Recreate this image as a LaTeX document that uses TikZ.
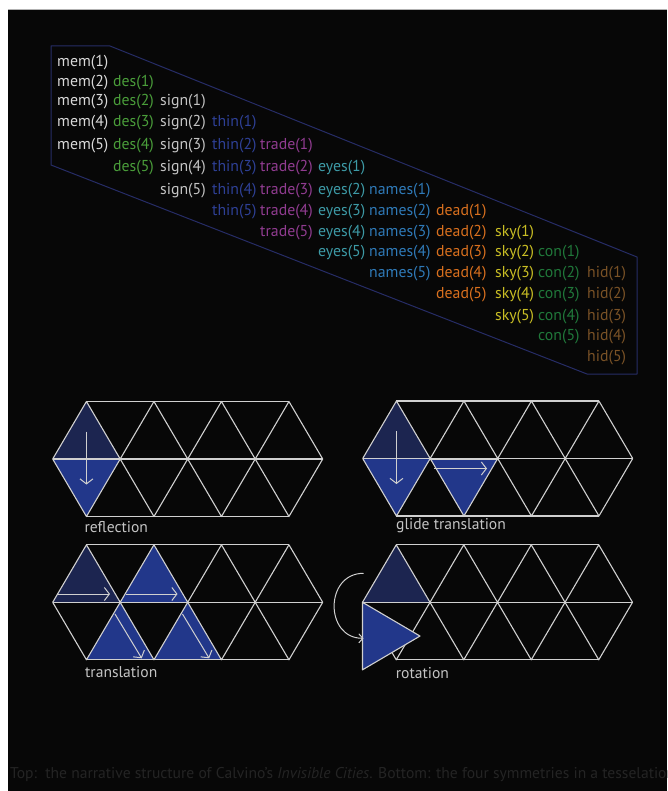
\documentclass[tikz,border=0pt]{standalone}
\usepackage{fontspec}
\setmainfont{PT Sans}
\usetikzlibrary{arrows.meta,calc}
\definecolor{bgblack}{HTML}{070707}
\definecolor{cmem}{HTML}{DADADA}
\definecolor{cdes}{HTML}{4A9E3A}
\definecolor{csign}{HTML}{C4C4C4}
\definecolor{cthin}{HTML}{2E4096}
\definecolor{ctrade}{HTML}{913C91}
\definecolor{ceyes}{HTML}{3D9AA6}
\definecolor{cnames}{HTML}{2F7AB8}
\definecolor{cdead}{HTML}{D9701E}
\definecolor{csky}{HTML}{C9BE24}
\definecolor{ccon}{HTML}{20783A}
\definecolor{chid}{HTML}{7A5226}
\definecolor{outline}{HTML}{262C66}
\definecolor{navy}{HTML}{1C2550}
\definecolor{tblue}{HTML}{22378A}
\definecolor{gridc}{HTML}{D0D0D0}
\definecolor{capc}{HTML}{242424}
\tikzset{
  word/.style={anchor=base west,inner sep=0pt,font=\fontsize{15.8}{18}\selectfont},
  gridline/.style={draw=gridc,line width=1.1pt,line join=round},
  marrow/.style={draw=gridc,line width=1pt,-{Straight Barb[length=5pt,width=13pt]}},
  plabel/.style={anchor=west,inner sep=0pt,text=csign,font=\fontsize{15.6}{18}\selectfont},
}
\newcommand\mkgrid[3]{%
  \begin{scope}[shift={(#2,#3)}]
    \foreach \i in {0,...,4} \coordinate (#1M\i) at (\i*67.5,0);
    \foreach \i in {0,...,3} {\coordinate (#1T\i) at (\i*67.5+33.75,-57.5);
                              \coordinate (#1B\i) at (\i*67.5+33.75,57.5);}
  \end{scope}}
\newcommand\drawgrid[1]{%
  \draw[gridline] (#1M0)--(#1M4) (#1T0)--(#1T3) (#1B0)--(#1B3);
  \draw[gridline] (#1M0)--(#1T0)--(#1M1)--(#1T1)--(#1M2)--(#1T2)--(#1M3)--(#1T3)--(#1M4);
  \draw[gridline] (#1M0)--(#1B0)--(#1M1)--(#1B1)--(#1M2)--(#1B2)--(#1M3)--(#1B3)--(#1M4);}
\begin{document}
\begin{tikzpicture}[x=1pt,y=-1pt]
\useasboundingbox (0,0) rectangle (667,791);
\clip (0,0) rectangle (667,791);
\fill[white] (0,0) rectangle (667,791);
\fill[bgblack] (8,10) rectangle (667,791);
\draw[gray!60,line width=0.6pt] (8,9.7) -- (667,9.7);

% ---------- top structure ----------
\draw[outline,line width=1pt,line join=round] (51,46) -- (110,46) -- (637,257) -- (637,374) -- (587,374) -- (51,165) -- cycle;

\def\cmem{57}\def\cdes{113}\def\csign{160}\def\cthin{212}\def\ctrade{260}
\def\ceyes{318}\def\cnames{369}\def\cdead{436}\def\csky{495}\def\ccon{538}\def\chid{587}
% mem
\node[word,text=cmem] (mem1) at (\cmem,66.5) {mem(1)};
\node[word,text=cmem] (mem2) at (\cmem,86.5) {mem(2)};
\node[word,text=cmem] (mem3) at (\cmem,105.5) {mem(3)};
\node[word,text=cmem] (mem4) at (\cmem,126.5) {mem(4)};
\node[word,text=cmem] (mem5) at (\cmem,149.5) {mem(5)};
% des
\node[word,text=cdes] (des1) at (\cdes,86.5) {des(1)};
\node[word,text=cdes] (des2) at (\cdes,105.5) {des(2)};
\node[word,text=cdes] (des3) at (\cdes,126.5) {des(3)};
\node[word,text=cdes] (des4) at (\cdes,149.5) {des(4)};
\node[word,text=cdes] (des5) at (\cdes,171.5) {des(5)};
% sign
\node[word,text=csign] (sign1) at (\csign,105.5) {sign(1)};
\node[word,text=csign] (sign2) at (\csign,126.5) {sign(2)};
\node[word,text=csign] (sign3) at (\csign,149.5) {sign(3)};
\node[word,text=csign] (sign4) at (\csign,171.5) {sign(4)};
\node[word,text=csign] (sign5) at (\csign,194.5) {sign(5)};
% thin
\node[word,text=cthin] (thin1) at (\cthin,126.5) {thin(1)};
\node[word,text=cthin] (thin2) at (\cthin,149.5) {thin(2)};
\node[word,text=cthin] (thin3) at (\cthin,171.5) {thin(3)};
\node[word,text=cthin] (thin4) at (\cthin,194.5) {thin(4)};
\node[word,text=cthin] (thin5) at (\cthin,215.5) {thin(5)};
% trade
\node[word,text=ctrade] (trade1) at (\ctrade,149.5) {trade(1)};
\node[word,text=ctrade] (trade2) at (\ctrade,171.5) {trade(2)};
\node[word,text=ctrade] (trade3) at (\ctrade,194.5) {trade(3)};
\node[word,text=ctrade] (trade4) at (\ctrade,215.5) {trade(4)};
\node[word,text=ctrade] (trade5) at (\ctrade,236.5) {trade(5)};
% eyes
\node[word,text=ceyes] (eyes1) at (\ceyes,171.5) {eyes(1)};
\node[word,text=ceyes] (eyes2) at (\ceyes,194.5) {eyes(2)};
\node[word,text=ceyes] (eyes3) at (\ceyes,215.5) {eyes(3)};
\node[word,text=ceyes] (eyes4) at (\ceyes,236.5) {eyes(4)};
\node[word,text=ceyes] (eyes5) at (\ceyes,256.5) {eyes(5)};
% names
\node[word,text=cnames] (names1) at (\cnames,194.5) {names(1)};
\node[word,text=cnames] (names2) at (\cnames,215.5) {names(2)};
\node[word,text=cnames] (names3) at (\cnames,236.5) {names(3)};
\node[word,text=cnames] (names4) at (\cnames,256.5) {names(4)};
\node[word,text=cnames] (names5) at (\cnames,277.5) {names(5)};
% dead
\node[word,text=cdead] (dead1) at (\cdead,215.5) {dead(1)};
\node[word,text=cdead] (dead2) at (\cdead,236.5) {dead(2)};
\node[word,text=cdead] (dead3) at (\cdead,256.5) {dead(3)};
\node[word,text=cdead] (dead4) at (\cdead,277.5) {dead(4)};
\node[word,text=cdead] (dead5) at (\cdead,298.5) {dead(5)};
% sky
\node[word,text=csky] (sky1) at (\csky,236.5) {sky(1)};
\node[word,text=csky] (sky2) at (\csky,256.5) {sky(2)};
\node[word,text=csky] (sky3) at (\csky,277.5) {sky(3)};
\node[word,text=csky] (sky4) at (\csky,298.5) {sky(4)};
\node[word,text=csky] (sky5) at (\csky,320.5) {sky(5)};
% con
\node[word,text=ccon] (con1) at (\ccon,256.5) {con(1)};
\node[word,text=ccon] (con2) at (\ccon,277.5) {con(2)};
\node[word,text=ccon] (con3) at (\ccon,298.5) {con(3)};
\node[word,text=ccon] (con4) at (\ccon,320.5) {con(4)};
\node[word,text=ccon] (con5) at (\ccon,340.5) {con(5)};
% hid
\node[word,text=chid] (hid1) at (\chid,277.5) {hid(1)};
\node[word,text=chid] (hid2) at (\chid,298.5) {hid(2)};
\node[word,text=chid] (hid3) at (\chid,320.5) {hid(3)};
\node[word,text=chid] (hid4) at (\chid,340.5) {hid(4)};
\node[word,text=chid] (hid5) at (\chid,361.5) {hid(5)};

% ---------- tessellations ----------
\mkgrid{a}{52.7}{459}
\mkgrid{b}{362.7}{458.5}
\mkgrid{c}{52.7}{602.3}
\mkgrid{d}{362.5}{602.3}

% reflection
\fill[navy] (aM0)--(aT0)--(aM1)--cycle;
\fill[tblue] (aM0)--(aB0)--(aM1)--cycle;
\drawgrid{a}
\draw[marrow] ($(aT0)+(0,30)$) -- ($(aB0)+(0,-32)$);
\node[plabel] (lrefl) at (84.3,526.7) {reflection};

% glide translation
\fill[navy] (bM0)--(bT0)--(bM1)--cycle;
\fill[tblue] (bM0)--(bB0)--(bM1)--cycle;
\fill[tblue] (bM1)--(bB1)--(bM2)--cycle;
\drawgrid{b}
\draw[gridc,line width=2pt] (bM1)--(bM2);
\draw[marrow] ($(bT0)+(0,30)$) -- ($(bB0)+(0,-32)$);
\draw[marrow] ($(bM0)+(71.3,10)$) -- ($(bM0)+(124.3,10)$);
\node[plabel] (lglide) at (396,526) {glide translation};

% translation
\fill[navy] (cM0)--(cT0)--(cM1)--cycle;
\fill[tblue] (cM1)--(cT1)--(cM2)--cycle;
\fill[tblue] (cB0)--(cM1)--(cB1)--cycle;
\fill[tblue] (cB1)--(cM2)--(cB2)--cycle;
\drawgrid{c}
\draw[marrow] ($(cM0)+(5.6,-8.3)$) -- ($(cM0)+(57.3,-8.3)$);
\draw[marrow] ($(cM1)+(5.6,-8.3)$) -- ($(cM1)+(57.3,-8.3)$);
\draw[marrow] ($(cM0)+(62.3,11.7)$) -- ($(cM0)+(89,56)$);
\draw[marrow] ($(cM1)+(62.3,11.7)$) -- ($(cM1)+(89,56)$);
\node[plabel] (ltrans) at (85,672.3) {translation};

% rotation
\fill[navy] (dM0)--(dT0)--(dM1)--cycle;
\drawgrid{d}
\coordinate (dR1) at ($(dM0)+(0,67.5)$);
\coordinate (dR2) at ($(dM0)+(57.5,33.75)$);
\filldraw[fill=tblue,draw=gridc,line width=1.1pt,line join=round] (dM0)--(dR1)--(dR2)--cycle;
\coordinate (rs) at ($(dM0)+(1,-29)$);
\coordinate (re) at ($(dM0)+(1,36)$);
\draw[draw=gridc,line width=1pt,-{Straight Barb[length=4pt,width=9pt]}] (rs) .. controls ($(dM0)+(-38,-29)$) and ($(dM0)+(-38,36)$) .. (re);
\node[plabel] (lrot) at (395.7,673.3) {rotation};

% caption
\node[anchor=west,inner sep=0pt,text=capc,font=\fontsize{15.6}{18}\selectfont] (cap) at (10,775)
  {Top:\ \ the narrative structure of Calvino’s \textit{Invisible Cities}. Bottom: the four symmetries in a tesselation.};
\end{tikzpicture}
\end{document}
